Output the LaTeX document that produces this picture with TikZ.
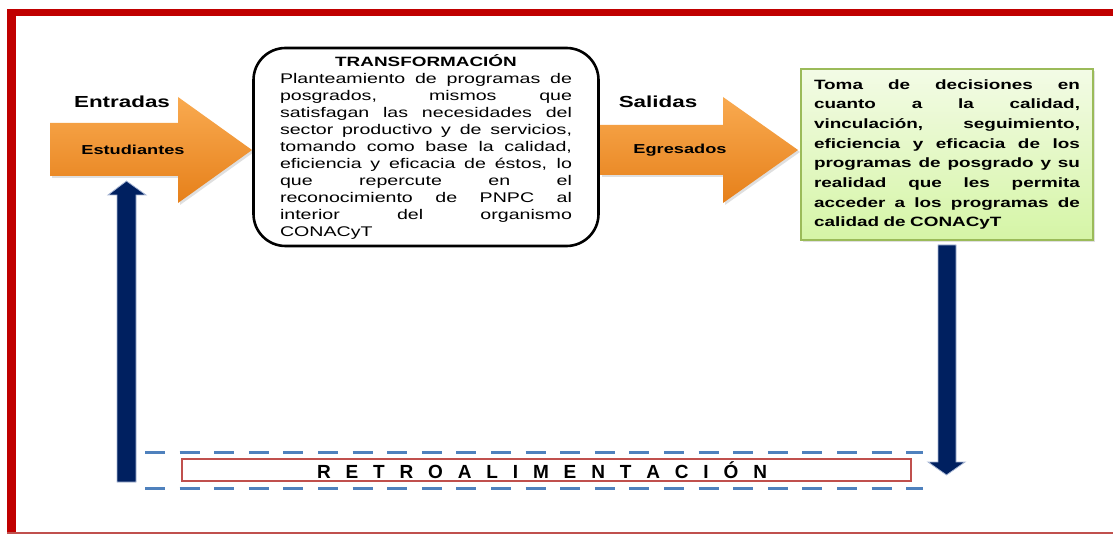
\documentclass[tikz,border=0pt]{standalone}
\usepackage{fontspec}
\setmainfont{Liberation Sans}[FakeStretch=1.4]
\newfontfamily\retrofont{Liberation Sans}
\usetikzlibrary{shadows}
\definecolor{frameRed}{HTML}{C00000}
\definecolor{lineRed}{HTML}{C0504D}
\definecolor{navy}{HTML}{002060}
\definecolor{navyEdge}{HTML}{A9B8D6}
\definecolor{dashBlue}{HTML}{4F81BD}
\definecolor{orTop}{HTML}{F9AA50}
\definecolor{orMid}{HTML}{F7941E}
\definecolor{orBot}{HTML}{E6801A}
\definecolor{grTop}{HTML}{F3FBE6}
\definecolor{grBot}{HTML}{D5F5A6}
\definecolor{grEdge}{HTML}{9BBB59}
\newcommand\jline[2]{\makebox[#1][s]{\spaceskip=0pt\xspaceskip=0pt\relax #2}}
\tikzset{
  orangearrow/.style={top color=orTop, middle color=orMid, bottom color=orBot, draw=none,
    drop shadow={opacity=0.25, shadow xshift=2pt, shadow yshift=-2pt}},
  navyarrow/.style={fill=navy, draw=navyEdge, line width=0.8pt},
  headlbl/.style={inner sep=0pt, font=\fontsize{16}{18}\selectfont\bfseries},
  arrowlbl/.style={inner sep=0pt, font=\fontsize{13}{15}\selectfont\bfseries},
  transbox/.style={draw=black, line width=2.6pt, rounded corners=32pt, fill=white,
    minimum width=345pt, minimum height=198pt, text width=292pt, inner sep=0pt,
    align=left, font=\fontsize{14}{17}\selectfont},
  greenbox/.style={draw=grEdge, line width=1.2pt, top color=grTop, bottom color=grBot,
    minimum width=292pt, minimum height=171pt, text width=266pt, inner sep=0pt,
    align=left, font=\fontsize{13.5}{19.7}\selectfont\bfseries,
    drop shadow={opacity=0.25, shadow xshift=2pt, shadow yshift=-2pt}},
  retrobox/.style={draw=lineRed, line width=1.8pt, minimum width=729pt, minimum height=22pt,
    inner sep=0pt, font=\retrofont\fontsize{19}{19}\selectfont\bfseries},
  dashline/.style={draw=dashBlue, line width=3pt, dash pattern=on 20pt off 14.6pt}
}
\begin{document}
\begin{tikzpicture}[x=1pt,y=-1pt]
\useasboundingbox (0,0) rectangle (1113,534);
\fill[white] (0,0) rectangle (1113,534);
% frame
\draw[frameRed, line width=6.5pt] (7,12.5) -- (1113,12.5);
\draw[frameRed, line width=9pt] (11.5,9.25) -- (11.5,534);
\draw[lineRed, line width=1.5pt] (7,533.2) -- (1113,533.2);

% orange arrows
\path[orangearrow] (50,123) -- (178,123) -- (178,97) -- (252,150) -- (178,203) -- (178,176) -- (50,176) -- cycle;
\path[orangearrow] (600,125) -- (723,125) -- (723,97) -- (798,150) -- (723,203) -- (723,175) -- (600,175) -- cycle;

% main boxes
\node[transbox] (trans) at (426,147) {%
\makebox[292pt][c]{\fontsize{13.5}{17}\selectfont\bfseries TRANSFORMACIÓN}\\
\jline{292pt}{Planteamiento de programas de}\\
\jline{292pt}{posgrados, mismos que}\\
\jline{292pt}{satisfagan las necesidades del}\\
\jline{292pt}{sector productivo y de servicios,}\\
\jline{292pt}{tomando como base la calidad,}\\
\jline{292pt}{eficiencia y eficacia de éstos, lo}\\
\jline{292pt}{que repercute en el}\\
\jline{292pt}{reconocimiento de PNPC al}\\
\jline{292pt}{interior del organismo}\\
CONACyT};

\node[greenbox] (toma) at (947,154.5) {%
\jline{266pt}{Toma de decisiones en}\\
\jline{266pt}{cuanto a la calidad,}\\
\jline{266pt}{vinculación, seguimiento,}\\
\jline{266pt}{eficiencia y eficacia de los}\\
\jline{266pt}{programas de posgrado y su}\\
\jline{266pt}{realidad que les permita}\\
\jline{266pt}{acceder a los programas de}\\
calidad de CONACyT};

% labels
\node[headlbl] (entradas) at (122,102) {Entradas};
\node[arrowlbl] (estud) at (133,150) {Estudiantes};
\node[headlbl] (salidas) at (658,102) {Salidas};
\node[arrowlbl] (egres) at (680,150) {Egresados};

% feedback
\coordinate (dtl) at (145,452);
\coordinate (dtr) at (923,452);
\coordinate (dbl) at (145,488);
\coordinate (dbr) at (923,488);
\draw[dashline] (dtl) -- (dtr);
\draw[dashline] (dbl) -- (dbr);
\node[retrobox] (retro) at (546.5,470) {\hspace*{-9pt}\makebox[450pt][s]{R E T R O A L I M E N T A C I Ó N}};

% navy arrows
\path[navyarrow] (117,482) -- (117,195) -- (108,195) -- (126.5,181) -- (146,195) -- (136,195) -- (136,482) -- cycle;
\path[navyarrow] (938,245) -- (956,245) -- (956,462) -- (965,462) -- (946.5,475) -- (928,462) -- (938,462) -- cycle;
\end{tikzpicture}
\end{document}
